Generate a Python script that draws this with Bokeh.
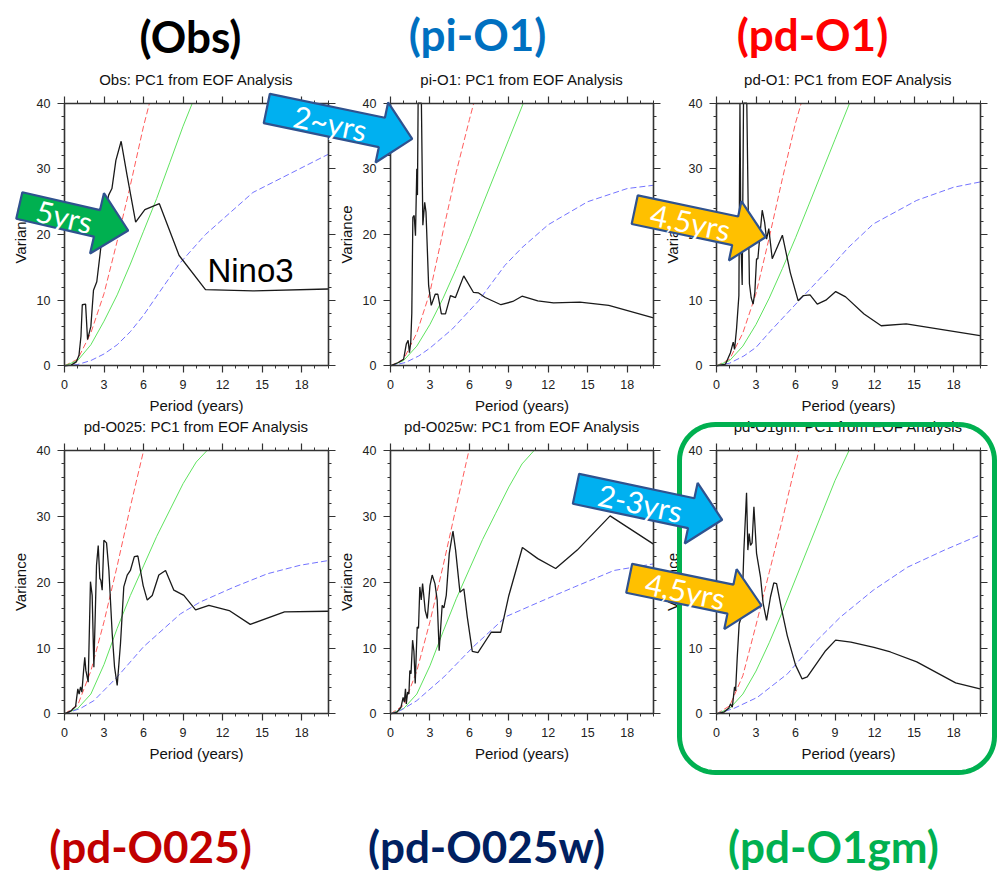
import math
from bokeh.plotting import figure
from bokeh.models import Range1d, LinearAxis, SingleIntervalTicker
from bokeh.core.properties import value
from bokeh.embed import file_html
from bokeh.resources import INLINE

# ---------------------------------------------------------------- data
panel_names = ["Obs", "pi-O1", "pd-O1", "pd-O025", "pd-O025w", "pd-O1gm"]
big_labels = ["(Obs)", "(pi-O1)", "(pd-O1)", "(pd-O025)", "(pd-O025w)", "(pd-O1gm)"]
big_label_colors = ["#000000", "#0070C0", "#FF0000", "#C00000", "#002060", "#00B050"]
x_label = "Period (years)"
y_label = "Variance"

# Obs
obs_period = [0, 0.5, 0.9, 1.1, 1.25, 1.35, 1.6, 1.75, 2.0, 2.2, 2.45, 2.7, 3.0, 3.35, 3.6, 3.9,
              4.3, 4.75, 5.4, 6.1, 7.2, 8.7, 10.7, 14.3, 20.0]
obs_var = [0, 0.1, 0.6, 1.6, 4.5, 9.3, 9.4, 4.0, 6.0, 11.5, 12.8, 17.0, 22.5, 26.0, 27.0, 31.3,
           34.2, 29.0, 21.9, 23.8, 24.7, 16.8, 11.6, 11.4, 11.7]
obs_red_period = [0, 1, 2, 3, 4, 5, 6, 6.45]
obs_red = [0, 1.0, 5.0, 11.0, 19.0, 27.5, 36.5, 40.0]
obs_green_period = [0, 1, 2, 3, 4, 5, 6, 7, 8, 9, 9.7]
obs_green = [0, 0.8, 3.2, 6.8, 10.8, 15.5, 20.5, 25.5, 31.0, 36.5, 40.0]
obs_blue_period = [0, 1, 2, 3, 4, 5, 6, 7.2, 8.7, 10.7, 14.3, 20.0]
obs_blue = [0, 0.2, 0.8, 1.8, 3.2, 5.2, 7.7, 11.2, 15.5, 20.0, 26.4, 32.2]

# pi-O1
pio1_period = [0, 0.6, 1.0, 1.2, 1.34, 1.44, 1.54, 1.62, 1.7, 1.8, 1.9, 2.0, 2.05, 2.1, 2.35,
               2.46, 2.6, 2.7, 2.9, 3.1, 3.4, 3.6, 3.87, 4.18, 4.56, 4.94, 5.57, 6.3, 6.7, 7.2,
               8.4, 9.3, 10.0, 11.2, 12.4, 14.4, 16.6, 20.0]
pio1_var = [0, 0.5, 1.0, 3.3, 3.9, 2.0, 3.6, 8.0, 22.6, 22.9, 19.8, 30.0, 26.0, 40.0, 40.0,
            21.4, 24.9, 23.4, 12.2, 9.2, 10.9, 10.9, 7.9, 7.9, 10.7, 10.4, 13.7, 11.2, 11.1, 10.4,
            9.3, 9.8, 10.6, 9.9, 9.6, 9.7, 9.2, 7.3]
pio1_red_period = [0, 1, 2, 3, 4, 5, 6, 6.33]
pio1_red = [0, 1.0, 5.0, 11.2, 20.5, 29.5, 37.5, 40.0]
pio1_green_period = [0, 1, 2, 3, 4, 5, 6, 7, 8, 9, 10.1]
pio1_green = [0, 0.8, 3.0, 6.3, 10.3, 14.8, 19.5, 24.5, 29.5, 34.5, 40.0]
pio1_blue_period = [0, 1.14, 2.15, 3, 4.7, 6.7, 8.7, 10, 12, 15, 18, 20]
pio1_blue = [0, 0.5, 1.5, 2.7, 5.6, 9.9, 15.3, 18.0, 21.5, 25.0, 27.0, 27.5]

# pd-O1
pdo1_period = [0, 0.68, 1.06, 1.27, 1.37, 1.52, 1.7, 1.78, 1.85, 1.95, 2.05, 2.3, 2.4, 2.5,
               2.63, 2.78, 2.91, 3.04, 3.14, 3.3, 3.47, 3.65, 3.8, 3.97, 4.23, 5.0, 5.6, 6.2,
               6.6, 7.1, 7.65, 8.3, 9.05, 9.8, 11.2, 12.5, 14.4, 20.0]
pdo1_var = [0, 0.25, 2.0, 3.6, 2.5, 5.6, 10.7, 40.0, 19.3, 12.3, 40.0, 40.0, 25.0, 12.5,
            10.4, 9.4, 11.2, 16.3, 16.3, 20.0, 23.7, 21.9, 19.3, 20.9, 16.3, 19.9, 14.2, 9.9,
            10.7, 10.8, 9.4, 10.0, 11.3, 10.5, 7.9, 6.1, 6.4, 4.6]
pdo1_red_period = [0, 1, 2, 3, 4, 5, 6, 6.43]
pdo1_red = [0, 1.0, 5.0, 11.0, 19.5, 28.5, 37.0, 40.0]
pdo1_green_period = [0, 1, 2, 3, 4, 5, 6, 7, 8, 9, 10.1]
pdo1_green = [0, 0.8, 3.0, 6.3, 10.3, 14.8, 19.5, 24.5, 29.5, 34.5, 40.0]
pdo1_blue_period = [0, 1, 2.08, 3, 4.1, 6.25, 8.66, 10, 11.9, 15.2, 18, 20]
pdo1_blue = [0, 0.4, 1.5, 2.8, 5.3, 9.9, 15.0, 18.0, 21.6, 25.2, 27.2, 28.0]

# pd-O025
pdo025_period = [0, 0.46, 0.84, 1.01, 1.11, 1.22, 1.32, 1.47, 1.54, 1.62, 1.8, 1.97, 2.1, 2.23,
                 2.43, 2.56, 2.68, 2.76, 2.86, 2.99, 3.19, 3.37, 3.62, 3.8, 4.0, 4.25, 4.5,
                 4.76, 5.0, 5.3, 5.57, 5.97, 6.28, 6.66, 7.16, 7.67, 8.3, 9.06, 9.95, 10.96,
                 12.5, 14.1, 16.7, 20.0]
pdo025_var = [0, 0.4, 1.1, 3.8, 3.0, 4.1, 3.3, 7.1, 8.6, 6.6, 4.8, 20.1, 18.0, 7.1,
              22.6, 25.6, 20.6, 20.3, 18.8, 26.4, 26.0, 21.8, 12.2, 7.1, 4.3, 10.7, 19.3,
              21.1, 21.8, 23.9, 24.0, 19.5, 17.3, 18.0, 21.1, 21.8, 18.8, 18.0, 15.8, 16.5,
              15.7, 13.6, 15.5, 15.6]
pdo025_red_period = [0, 1, 2, 3, 4, 5, 6.0]
pdo025_red = [0, 1.3, 6.5, 14.0, 22.5, 31.5, 40.0]
pdo025_green_period = [0, 1, 2, 3, 4, 5, 6, 7, 8, 9, 10, 10.8]
pdo025_green = [0, 0.8, 3.0, 7.5, 13.0, 18.0, 22.5, 27.0, 31.0, 35.0, 38.3, 40.0]
pdo025_blue_period = [0, 1.2, 2.23, 4, 6, 8.8, 10.3, 12.9, 15.4, 17.9, 20]
pdo025_blue = [0, 0.8, 2.0, 5.6, 10.2, 15.2, 17.0, 19.3, 21.3, 22.6, 23.3]

# pd-O025w
pdo025w_period = [0, 0.5, 0.8, 0.96, 1.05, 1.14, 1.2, 1.3, 1.4, 1.47, 1.56, 1.68, 1.78, 1.88,
                  2.03, 2.13, 2.23, 2.34, 2.44, 2.54, 2.64, 2.8, 3.0, 3.17, 3.38, 3.55, 3.7,
                  3.93, 4.06, 4.24, 4.47, 4.75, 4.95, 5.28, 5.58, 5.84, 6.22, 6.65, 7.66, 8.38,
                  9.0, 10.03, 11.2, 12.56, 14.2, 16.7, 20.0]
pdo025w_var = [0, 0.25, 1.0, 2.5, 1.8, 3.8, 1.5, 3.3, 3.0, 6.6, 6.1, 11.2, 9.5, 4.6,
               13.2, 13.0, 19.3, 17.3, 19.8, 17.8, 15.7, 14.5, 19.5, 21.1, 19.8, 17.3, 9.6,
               16.5, 16.1, 18.0, 24.4, 27.8, 24.9, 18.5, 19.0, 14.7, 9.5, 9.3, 12.4, 12.4,
               18.0, 25.3, 23.6, 22.1, 24.9, 30.1, 25.8]
pdo025w_red_period = [0, 1, 2, 3, 4, 5, 5.96]
pdo025w_red = [0, 1.3, 6.5, 14.0, 22.5, 31.5, 40.0]
pdo025w_green_period = [0, 1, 2, 3, 4, 5, 6, 7, 8, 9, 10, 10.9]
pdo025w_green = [0, 0.8, 3.0, 7.3, 12.5, 17.5, 22.0, 26.5, 30.5, 34.5, 38.0, 40.0]
pdo025w_blue_period = [0, 0.76, 2.0, 4.06, 6.3, 8.8, 11.2, 14, 17, 20]
pdo025w_blue = [0, 0.5, 2.0, 5.6, 10.2, 14.8, 16.9, 19.3, 21.8, 22.8]

# pd-O1gm
pdo1gm_period = [0, 0.56, 0.94, 1.06, 1.2, 1.37, 1.45, 1.57, 1.72, 1.85, 2.0, 2.08, 2.28, 2.38,
                 2.48, 2.58, 2.7, 2.84, 3.04, 3.34, 3.54, 3.8, 4.1, 4.35, 4.56, 4.91, 5.37,
                 6.0, 6.5, 6.89, 8.28, 9.04, 10.2, 11.95, 13.2, 15.2, 18.15, 20.0]
pdo1gm_var = [0, 0.25, 0.9, 1.5, 1.0, 4.1, 3.5, 8.4, 13.7, 14.5, 20.0, 24.9, 33.6, 24.9,
              27.4, 25.6, 26.0, 31.5, 24.4, 20.8, 16.8, 14.2, 17.8, 19.9, 19.8, 16.2, 11.9,
              7.4, 5.3, 5.6, 9.6, 11.2, 10.9, 10.1, 9.4, 7.9, 4.7, 3.8]
pdo1gm_red_period = [0, 1, 2, 3, 4, 5, 6, 6.25]
pdo1gm_red = [0, 1.2, 5.8, 13.5, 21.5, 29.5, 38.0, 40.0]
pdo1gm_green_period = [0, 1, 2, 3, 4, 5, 6, 7, 8, 9, 10.05]
pdo1gm_green = [0, 0.8, 3.0, 6.5, 10.8, 15.5, 20.5, 25.5, 30.5, 35.5, 40.0]
pdo1gm_blue_period = [0, 1.3, 3.1, 5.4, 7.4, 9.4, 11.9, 14.5, 17.3, 20]
pdo1gm_blue = [0, 0.8, 2.5, 6.1, 10.7, 14.7, 18.8, 22.3, 24.9, 27.2]

spectra = [(obs_period, obs_var), (pio1_period, pio1_var), (pdo1_period, pdo1_var),
           (pdo025_period, pdo025_var), (pdo025w_period, pdo025w_var), (pdo1gm_period, pdo1gm_var)]
red_curves = [(obs_red_period, obs_red), (pio1_red_period, pio1_red), (pdo1_red_period, pdo1_red),
              (pdo025_red_period, pdo025_red), (pdo025w_red_period, pdo025w_red),
              (pdo1gm_red_period, pdo1gm_red)]
green_curves = [(obs_green_period, obs_green), (pio1_green_period, pio1_green),
                (pdo1_green_period, pdo1_green), (pdo025_green_period, pdo025_green),
                (pdo025w_green_period, pdo025w_green), (pdo1gm_green_period, pdo1gm_green)]
blue_curves = [(obs_blue_period, obs_blue), (pio1_blue_period, pio1_blue),
               (pdo1_blue_period, pdo1_blue), (pdo025_blue_period, pdo025_blue),
               (pdo025w_blue_period, pdo025w_blue), (pdo1gm_blue_period, pdo1gm_blue)]

arrow_texts = ["5yrs", "2~yrs", "4,5yrs", "2-3yrs", "4,5yrs"]
note_text = "Nino3"

X_MAX, Y_MAX = 20, 40

# ---------------------------------------------------------------- layout (pixels)
W, H = 998, 873
col_left = [64, 390, 716]
col_right = [327.5, 653, 979.5]
row_top = [102.7, 450.3]
row_bottom = [365.3, 713.3]

p = figure(width=W, height=H, x_range=Range1d(0, W), y_range=Range1d(H, 0),
           output_backend="svg", toolbar_location=None,
           x_axis_type=None, y_axis_type=None, min_border=0,
           outline_line_color=None, background_fill_color="white",
           border_fill_color="white")

for c in range(3):
    L, R = col_left[c], col_right[c]
    k = X_MAX / (R - L)
    p.extra_x_ranges[f"x{c}"] = Range1d(-L * k, -L * k + W * k)
for r in range(2):
    T, B = row_top[r], row_bottom[r]
    k = Y_MAX / (B - T)
    p.extra_y_ranges[f"y{r}"] = Range1d(-(H - B) * k, Y_MAX + T * k)

FONT = "Liberation Sans"
AX_COL = "#333333"


def style_axis(ax, show_labels):
    ax.axis_line_color = AX_COL
    ax.axis_line_width = 1.6
    ax.major_tick_line_color = AX_COL
    ax.major_tick_line_width = 1.2
    ax.minor_tick_line_color = AX_COL
    ax.minor_tick_line_width = 1
    ax.major_tick_in = 0
    ax.major_tick_out = 7
    ax.minor_tick_in = 0
    ax.minor_tick_out = 3
    ax.major_label_text_font = FONT
    ax.major_label_text_font_size = "12.5px"
    ax.major_label_text_color = "#222222" if show_labels else None
    ax.major_label_standoff = 7
    ax.axis_label_text_font = FONT
    ax.axis_label_text_font_size = "15px"
    ax.axis_label_text_font_style = "normal"
    ax.axis_label_text_color = "#111111"
    ax.axis_label_standoff = 5


for i in range(6):
    r, c = divmod(i, 3)
    xn, yn = f"x{c}", f"y{r}"
    per, var = spectra[i]
    rp, rv = red_curves[i]
    gp, gv = green_curves[i]
    bp, bv = blue_curves[i]
    p.line(rp, rv, x_range_name=xn, y_range_name=yn, line_color="#ff5c5c",
           line_width=1, line_dash="6 3")
    p.line(gp, gv, x_range_name=xn, y_range_name=yn, line_color="#5fe35f", line_width=1)
    p.line(bp, bv, x_range_name=xn, y_range_name=yn, line_color="#7373ff",
           line_width=1, line_dash="6 3")
    p.line(per, var, x_range_name=xn, y_range_name=yn, line_color="#1a1a1a", line_width=1.3)

    xt = dict(x_range_name=xn, y_range_name=yn, bounds=(0, X_MAX))
    yt = dict(x_range_name=xn, y_range_name=yn, bounds=(0, Y_MAX))
    bottom = LinearAxis(fixed_location=0, axis_label=x_label,
                        ticker=SingleIntervalTicker(interval=3, num_minor_ticks=3), **xt)
    style_axis(bottom, True)
    p.add_layout(bottom, "below")
    top = LinearAxis(fixed_location=Y_MAX,
                     ticker=SingleIntervalTicker(interval=3, num_minor_ticks=3), **xt)
    style_axis(top, False)
    p.add_layout(top, "above")
    left = LinearAxis(fixed_location=0, axis_label=y_label,
                      ticker=SingleIntervalTicker(interval=10, num_minor_ticks=5), **yt)
    style_axis(left, True)
    p.add_layout(left, "left")
    right = LinearAxis(fixed_location=X_MAX,
                       ticker=SingleIntervalTicker(interval=10, num_minor_ticks=5), **yt)
    style_axis(right, False)
    p.add_layout(right, "right")

    # small panel title
    p.text(x=[(col_left[c] + col_right[c]) / 2], y=[row_top[r] - 24],
           text=[panel_names[i] + ": PC1 from EOF Analysis"],
           text_font=value(FONT), text_font_size="15px", text_color="#111111",
           text_align="center", text_baseline="middle")

# "Nino3" note in the Obs panel
p.text(x=[250], y=[270], text=[note_text], text_font=value(FONT), text_font_size="33px",
       text_color="#000000", text_align="center", text_baseline="middle", level="overlay")

# big coloured labels
big_pos = [(190, 35), (477, 33), (812, 33), (150, 845), (486, 845), (833, 845)]
for (bx, by), lab, col in zip(big_pos, big_labels, big_label_colors):
    p.text(x=[bx], y=[by], text=[lab], text_font=value("Lato"), text_font_style="bold",
           text_font_size="44px", text_color=col, text_align="center",
           text_baseline="middle", level="overlay")

# green rounded frame around the last panel
def rounded_rect(x0, y0, x1, y1, rad, n=14):
    pts = []
    corners = [(x1 - rad, y0 + rad, -90, 0), (x1 - rad, y1 - rad, 0, 90),
               (x0 + rad, y1 - rad, 90, 180), (x0 + rad, y0 + rad, 180, 270)]
    for cx, cy, a0, a1 in corners:
        for kk in range(n + 1):
            a = math.radians(a0 + (a1 - a0) * kk / n)
            pts.append((cx + rad * math.cos(a), cy + rad * math.sin(a)))
    pts.append(pts[0])
    return [q[0] for q in pts], [q[1] for q in pts]


gx, gy = rounded_rect(679, 424, 994, 772, 36)
p.line(gx, gy, line_color="#00B050", line_width=5, line_join="round", level="overlay")

# block arrows
def block_arrow(tail, tip, body_half, head_half, head_len):
    tx, ty = tail
    px, py = tip
    Ltot = math.hypot(px - tx, py - ty)
    ux, uy = (px - tx) / Ltot, (py - ty) / Ltot
    nx, ny = -uy, ux
    bx = Ltot - head_len
    loc = [(0, -body_half), (bx, -body_half), (bx, -head_half), (Ltot, 0),
           (bx, head_half), (bx, body_half), (0, body_half)]
    xs = [tx + a * ux + b * nx for a, b in loc]
    ys = [ty + a * uy + b * ny for a, b in loc]
    return xs, ys, math.atan2(py - ty, px - tx)


arrows = [
    ((18.8, 205), (127.7, 230), 13.6, 31, 32, "#00B050", (64, 215.5)),
    ((266.3, 108), (411.7, 138.3), 15, 30.7, 31, "#00B0F0", (330, 122)),
    ((634.2, 209.2), (765, 236.7), 14.6, 30.3, 31, "#FFC000", (690, 221)),
    ((575.5, 488.3), (721.7, 519.3), 15.3, 31, 31.7, "#00B0F0", (640, 502)),
    ((628.7, 577.8), (761, 605), 14.8, 30.6, 31.7, "#FFC000", (685, 590)),
]
for (tail, tip, bh, hh, hl, col, tpos), txt in zip(arrows, arrow_texts):
    xs, ys, ang = block_arrow(tail, tip, bh, hh, hl)
    p.patch(xs, ys, fill_color=col, line_color="#2F528F", line_width=2.2, level="overlay")
    p.text(x=[tpos[0]], y=[tpos[1]], text=[txt], angle=-ang, text_font=value("Lato"),
           text_font_size="30px", text_color="white", text_align="center",
           text_baseline="middle", level="overlay")

open("out.html", "w").write(file_html(p, INLINE))
